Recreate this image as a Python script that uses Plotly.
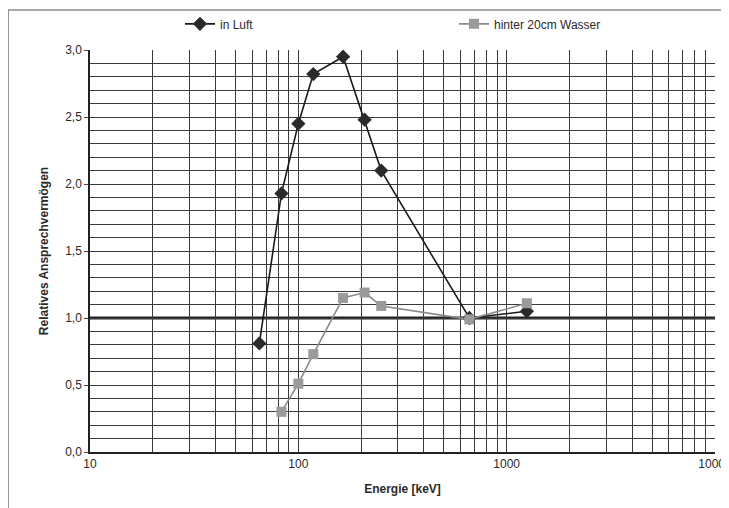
import plotly.graph_objects as go

# Data
luft_energy = [65, 83, 100, 118, 164, 208, 250, 662, 1250]
luft_resp = [0.81, 1.93, 2.45, 2.82, 2.95, 2.48, 2.10, 1.00, 1.05]

wasser_energy = [83, 100, 118, 164, 208, 250, 662, 1250]
wasser_resp = [0.30, 0.51, 0.73, 1.15, 1.19, 1.09, 0.99, 1.11]

x_tick_decades = [10, 100, 1000, 10000]
x_tick_labels = ["10", "100", "1000", "10000"]
reference_level = 1.0

# gridline positions for the log axis: every digit in each decade
x_grid_vals = []
x_grid_text = []
for d in x_tick_decades[:-1]:
    for k in range(1, 10):
        x_grid_vals.append(d * k)
        x_grid_text.append(x_tick_labels[x_tick_decades.index(d)] if k == 1 else "")
x_grid_vals.append(x_tick_decades[-1])
x_grid_text.append(x_tick_labels[-1])

FONT = "Liberation Sans, Arial, sans-serif"
GRID = "#3a3a3a"
TXT = "#2a2a2a"

fig = go.Figure()
fig.add_trace(go.Scatter(
    x=luft_energy, y=luft_resp, name="in Luft", mode="lines+markers",
    line=dict(color="#1a1a1a", width=1.6),
    marker=dict(symbol="diamond", size=11, color="#2a2a2a"),
))
fig.add_trace(go.Scatter(
    x=wasser_energy, y=wasser_resp, name="hinter 20cm Wasser", mode="lines+markers",
    line=dict(color="#8a8a8a", width=1.6),
    marker=dict(symbol="square", size=10, color="#9a9a9a"),
))

fig.add_hline(y=reference_level, line=dict(color="#222222", width=3), layer="below")

# the page body adds an 8px offset, so margins are compensated by 8px
fig.update_layout(
    width=729, height=508,
    margin=dict(l=82, r=22, t=42, b=64, autoexpand=False),
    paper_bgcolor="white", plot_bgcolor="white",
    separators=",.",
    font=dict(family=FONT, size=11, color=TXT),
    showlegend=True,
    legend=dict(
        orientation="h", x=0.144, xanchor="left", y=1.065, yanchor="middle",
        entrywidth=229, entrywidthmode="pixels",
        font=dict(family=FONT, size=12, color=TXT),
        bgcolor="rgba(0,0,0,0)",
    ),
    xaxis=dict(
        type="log", range=[1, 4],
        tickmode="array", tickvals=x_grid_vals, ticktext=x_grid_text,
        showgrid=True, gridcolor=GRID, gridwidth=1,
        showline=True, linecolor="#222222", linewidth=1.5,
        ticks="", tickfont=dict(size=12, color=TXT),
        title=dict(text="<b>Energie [keV]</b>", font=dict(size=12, color=TXT), standoff=14),
        zeroline=False,
    ),
    yaxis=dict(
        range=[0, 3], dtick=0.5, tickformat=".1f",
        showgrid=True, gridcolor=GRID, gridwidth=1,
        minor=dict(dtick=0.1, showgrid=True, gridcolor=GRID, gridwidth=1),
        showline=True, linecolor="#222222", linewidth=1.5,
        ticks="outside", ticklen=4, tickcolor="#444444",
        tickfont=dict(size=12, color=TXT),
        title=dict(text="<b>Relatives Ansprechvermögen</b>", font=dict(size=12, color=TXT), standoff=14),
        zeroline=False,
    ),
    shapes=[
        dict(type="rect", xref="paper", yref="paper", x0=0, x1=1.013, y0=1.03, y1=1.0995,
             line=dict(color="#333333", width=1), fillcolor="rgba(0,0,0,0)"),
        dict(type="rect", xref="paper", yref="paper", x0=-0.131, x1=1.08, y0=-0.3, y1=1.0995,
             line=dict(color="#555555", width=1), fillcolor="rgba(0,0,0,0)"),
    ],
)

fig.write_html("out.html")
